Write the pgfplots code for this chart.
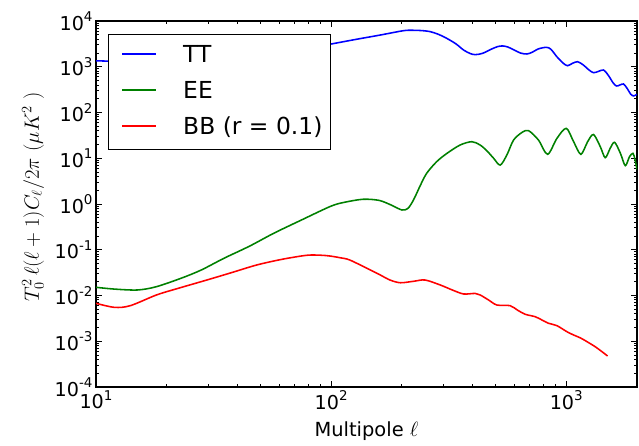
\documentclass[border=0pt]{standalone}
\usepackage[no-math]{fontspec}
\setmainfont{DejaVu Sans}
\usepackage{pgfplots}
\pgfplotsset{compat=1.18}
\definecolor{mplblue}{rgb}{0,0,1}
\definecolor{mplgreen}{rgb}{0,0.5,0}
\definecolor{mplred}{rgb}{1,0,0}
\newcommand\tkl[1]{10\raisebox{0.45em}{\fontsize{13.5}{13.5}\selectfont #1}}
\newcommand\legline[1]{\tikz[baseline=-8.6bp]{\path[draw=none] (0bp,0bp) -- (67.5bp,0bp); \draw[draw=#1, line width=1.56bp] (6.5bp,0bp) -- (40.5bp,0bp);}}
\begin{document}
\begin{tikzpicture}
\begin{axis}[name=ax, at={(0,0)}, anchor=south west,
  scale only axis, width=541bp, height=366bp,
  xmode=log, ymode=log, xmin=10, xmax=2000, ymin=1e-4, ymax=1e4,
  xtick={10,100,1000}, xticklabels={\tkl{1},\tkl{2},\tkl{3}},
  ytick={1e-4,1e-3,1e-2,1e-1,1,10,100,1000,10000},
  yticklabels={\tkl{-4},\tkl{-3},\tkl{-2},\tkl{-1},\tkl{0},\tkl{1},\tkl{2},\tkl{3},\tkl{4}},
  tick label style={font=\fontsize{19.2}{19.2}\selectfont},
  major tick length=6.2bp, minor tick length=3.1bp,
  every tick/.style={black, line width=0.9bp},
  axis line style={line width=1.4bp},
  tick align=inside, tick pos=both,
  xlabel={Multipole $\ell$},
  xlabel style={font=\fontsize{19.5}{19.5}\selectfont, at={(axis description cs:0.5,-0.1366)}, anchor=base},
  ylabel={$T_0^2\,\ell(\ell+1)C_\ell/2\pi\ (\mu K^2\ )$},
  ylabel style={font=\fontsize{21}{21}\selectfont, at={(axis description cs:-0.1164,0.52)}, anchor=center},
  legend style={at={(0.0213,0.9656)}, anchor=north west, draw=black, fill=white,
    font=\fontsize{23.5}{23.5}\selectfont, inner xsep=8bp, inner ysep=3.5bp, row sep=0pt,
    nodes={inner sep=0pt, text height=25.5bp, text depth=10.5bp}},
  legend cell align=left,
  legend image code/.code={},
  every axis plot/.append style={line width=1.56bp, smooth, tension=0.5},
]
\addplot[draw=mplblue] coordinates {
(10,1350) (13,1300) (17,1265) (22,1275) (30,1380) (40,1560) (55,1860) (75,2380) (100,3140)
(128,3980) (162,4940) (203,6140) (223,6270) (245,6150) (264,5850) (285,5150) (310,4190)
(340,3150) (366,2320) (390,1950) (410,1840) (440,1960) (480,2420) (510,2750) (536,2850)
(565,2700) (600,2320) (640,1990) (681,1900) (720,2100) (760,2450) (822,2660) (860,2420)
(912,1660) (970,1200) (1013,1054) (1060,1180) (1117,1290) (1180,1100) (1250,850) (1306,741)
(1370,790) (1442,849) (1510,650) (1580,450) (1634,380) (1690,398) (1753,420) (1820,330)
(1880,252) (1935,230) (2000,250)
};
\addlegendentry{\legline{mplblue}TT}
\addplot[draw=mplgreen] coordinates {
(10,0.0151) (12,0.0138) (15,0.0132) (18,0.0155) (23,0.0238) (28,0.036) (35,0.065) (45,0.12)
(57,0.229) (75,0.45) (100,0.90) (115,1.1) (137,1.27) (160,1.2) (180,0.95) (200,0.74)
(212,0.80) (224,1.22) (240,2.6) (255,4.7) (281,8.4) (311,12.8) (354,19.5) (397,23) (430,19.5)
(460,14.5) (491,10) (524,7.1) (560,12) (597,25) (650,37) (692,40) (762,25) (833,12.2) (912,27)
(1000,45) (1075,23) (1154,12.2) (1233,23) (1306,33) (1396,17.9) (1465,10.3) (1538,16.5)
(1606,22.3) (1700,12.8) (1783,6.9) (1858,10.8) (1922,12.8) (1960,9.5) (2000,5.7)
};
\addlegendentry{\legline{mplgreen}EE}
\addplot[draw=mplred] coordinates {
(10,0.00675) (12,0.0055) (14,0.0060) (18.1,0.0103) (22,0.0140) (29.6,0.0218) (38,0.032)
(48.3,0.0465) (62,0.062) (78.8,0.0757) (90,0.076) (98.8,0.073) (109,0.067) (120,0.0597)
(147,0.036) (162,0.028) (178,0.0218) (197,0.019) (225,0.0205) (251,0.0218) (291,0.017)
(330,0.013) (366,0.0108) (410,0.0111) (430,0.0103) (467,0.008) (507,0.0062) (577,0.0060)
(620,0.0048) (670,0.00388) (738,0.00344) (790,0.0029) (841,0.00247) (913,0.00219)
(1006,0.00162) (1075,0.00137) (1150,0.00118) (1225,0.00098) (1328,0.00076) (1420,0.00059)
(1499,0.000476)
};
\addlegendentry{\legline{mplred}BB (r = 0.1)}
\end{axis}
\pgfresetboundingbox
\path ([shift={(-96bp,-59bp)}]ax.south west) rectangle ([shift={(2bp,21bp)}]ax.north east);
\end{tikzpicture}
\end{document}
